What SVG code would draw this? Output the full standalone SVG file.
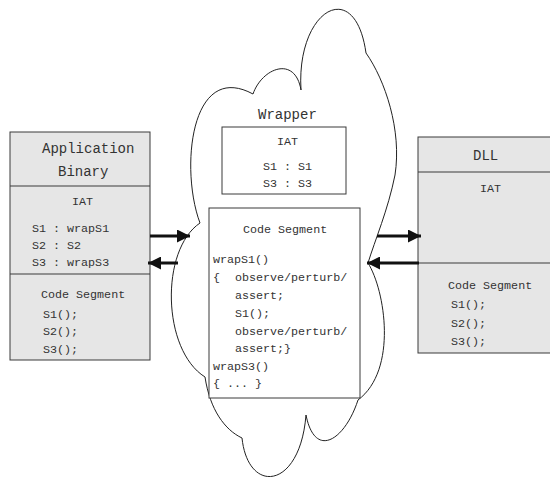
<svg xmlns="http://www.w3.org/2000/svg" width="550" height="480" viewBox="0 0 550 480">
<style>
.box{fill:#e6e6e6;stroke:#3a3a3a;stroke-width:1}
.wbox{fill:#ffffff;stroke:#3a3a3a;stroke-width:1}
.cloud{fill:#ffffff;stroke:#222;stroke-width:1}
.t{font-family:"Liberation Mono","DejaVu Sans Mono",monospace;font-size:11.7px;fill:#333}
.tl{font-family:"Liberation Mono","DejaVu Sans Mono",monospace;font-size:14px;fill:#333}
.arr{stroke:#111;stroke-width:3;fill:none;marker-end:url(#ah)}
</style>
<defs>
<marker id="ah" viewBox="0 0 10 10" refX="10" refY="5" markerUnits="userSpaceOnUse" markerWidth="13" markerHeight="13" orient="auto">
<path d="M0,0 L10,5 L0,10 Z" fill="#111"/>
</marker>
</defs>
<g id="wrapper">
<path class="cloud" d="M200,223 C180,170 190,60 253,94 C262,68 295,55 301,90 C296,10 355,-25 366,53 C385,80 402,130 395,175 C388,210 375,240 368,263 C385,290 398,370 358,400 C345,440 315,460 306,415 C300,490 248,495 242,438 C225,430 210,410 205,377 C162,350 160,250 200,223 Z"/>
<text class="tl" x="258" y="119">Wrapper</text>
<rect class="wbox" x="222" y="127" width="124" height="67"/>
<text class="t" x="277" y="145">IAT</text>
<text class="t" x="263" y="170">S1 : S1</text>
<text class="t" x="263" y="187">S3 : S3</text>
<rect class="wbox" x="209" y="208" width="151" height="190"/>
<text class="t" x="243" y="233">Code Segment</text>
<text class="t" x="213" y="263">wrapS1()</text>
<text class="t" x="213" y="281">{</text>
<text class="t" x="235" y="281">observe/perturb/</text>
<text class="t" x="235" y="299">assert;</text>
<text class="t" x="235" y="317">S1();</text>
<text class="t" x="235" y="335">observe/perturb/</text>
<text class="t" x="235" y="352">assert;}</text>
<text class="t" x="213" y="370">wrapS3()</text>
<text class="t" x="213" y="387">{ ... }</text>
</g>
<g id="app">
<rect class="box" x="10" y="132" width="140" height="228"/>
<line x1="10" y1="186" x2="150" y2="186" stroke="#3a3a3a"/>
<line x1="10" y1="274" x2="150" y2="274" stroke="#3a3a3a"/>
<text class="tl" x="42" y="153">Application</text>
<text class="tl" x="58" y="176">Binary</text>
<text class="t" x="72" y="205">IAT</text>
<text class="t" x="32" y="232">S1 : wrapS1</text>
<text class="t" x="32" y="249">S2 : S2</text>
<text class="t" x="32" y="266">S3 : wrapS3</text>
<text class="t" x="41" y="298">Code Segment</text>
<text class="t" x="43" y="318">S1();</text>
<text class="t" x="43" y="335">S2();</text>
<text class="t" x="43" y="353">S3();</text>
</g>
<g id="dll">
<rect class="box" x="418" y="137" width="140" height="216"/>
<line x1="418" y1="172" x2="550" y2="172" stroke="#3a3a3a"/>
<line x1="418" y1="263" x2="550" y2="263" stroke="#3a3a3a"/>
<text class="tl" x="473" y="160">DLL</text>
<text class="t" x="480" y="192">IAT</text>
<text class="t" x="448" y="289">Code Segment</text>
<text class="t" x="451" y="308">S1();</text>
<text class="t" x="451" y="327">S2();</text>
<text class="t" x="451" y="345">S3();</text>
</g>
<g id="connectors">
<line class="arr" x1="150" y1="236" x2="190" y2="236"/>
<line class="arr" x1="178" y1="263" x2="148" y2="263"/>
<line class="arr" x1="377" y1="236" x2="421" y2="236"/>
<line class="arr" x1="419" y1="263" x2="367" y2="263"/>
</g>
</svg>
